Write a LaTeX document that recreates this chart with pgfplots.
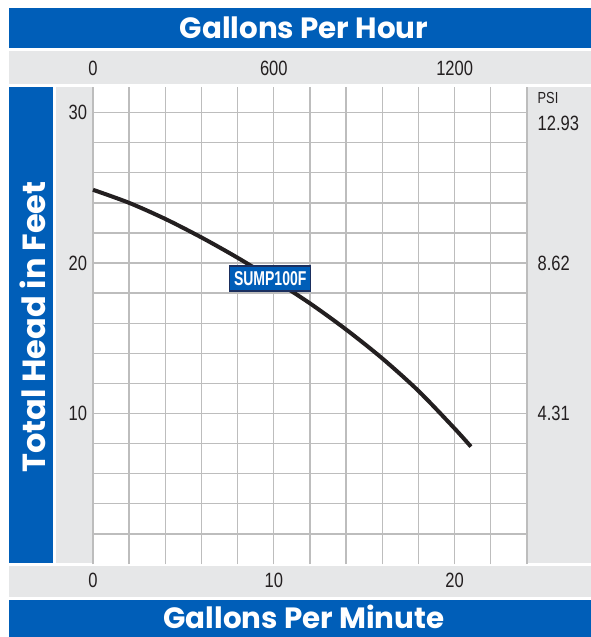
\documentclass[border=0pt]{standalone}
\usepackage{fontspec}
\setmainfont{Liberation Sans}
\newfontfamily\cond[FakeStretch=0.8]{Liberation Sans}
\newfontfamily\condx[FakeStretch=0.7]{Liberation Sans}
\newfontfamily\titlefont{Poppins}
\usepackage{pgfplots}
\pgfplotsset{compat=1.18}
\definecolor{hdrblue}{HTML}{005EB8}
\definecolor{stripgray}{HTML}{E6E7E8}
\definecolor{gridgray}{HTML}{BDBDBD}
\definecolor{curvecol}{HTML}{231F20}
\definecolor{boxedge}{HTML}{1B2F5E}
\begin{document}
\begin{tikzpicture}[x=0.75pt,y=-0.75pt]
\fill[white] (0,0) rectangle (591,637);
\fill[hdrblue] (9,8) rectangle (591,48);
\fill[stripgray] (9,51) rectangle (591,84);
\fill[hdrblue] (9,87) rectangle (53,563);
\fill[stripgray] (56,87) rectangle (92,563);
\fill[stripgray] (527,87) rectangle (591,563);
\fill[stripgray] (9,566) rectangle (591,597);
\fill[hdrblue] (9,600) rectangle (591,637);
\node[text=white, inner sep=0pt, font=\titlefont\bfseries\fontsize{22}{22}\selectfont] at (304,28) {Gallons Per Hour};
\node[text=white, inner sep=0pt, font=\titlefont\bfseries\fontsize{22}{22}\selectfont] at (304,617) {Gallons Per Minute};
\node[text=white, inner sep=0pt, rotate=90, font=\titlefont\bfseries\fontsize{24}{24}\selectfont] at (33,327) {Total Head in Feet};
\begin{axis}[
  at={(69.75pt,-423pt)}, anchor=south west,
  width=325.5pt, height=357.75pt, scale only axis,
  xmin=0, xmax=24, ymin=0, ymax=31.7,
  axis line style={draw=none},
  xtick={0,10,20}, minor xtick={2,4,6,8,12,14,16,18,22,24},
  ytick={10,20,30}, minor ytick={2,4,6,8,12,14,16,18,22,24,26,28},
  major tick length=0pt, minor tick length=0pt,
  grid=both,
  major grid style={gridgray, line width=1pt},
  minor grid style={gridgray, line width=1pt},
  tick label style={font=\cond\fontsize{15.5}{15.5}\selectfont, text=curvecol},
  /pgf/number format/assume math mode=true,
  xticklabel style={yshift=-3pt},
  yticklabel style={xshift=-1pt},
  clip=false,
]
\addplot[curvecol, line width=3pt, smooth, tension=0.5] coordinates {
  (0,24.87) (2,24.0) (4,22.93) (6,21.7) (8,20.35) (10,18.88)
  (12,17.32) (14,15.58) (16,13.66) (18,11.5) (20,9.0) (20.9,7.8)
};
\node[fill=hdrblue, draw=boxedge, line width=1pt, text=white,
  font=\condx\bfseries\fontsize{15}{15}\selectfont, inner sep=1pt,
  minimum width=60.75pt, minimum height=18.75pt] at (axis cs:9.8,18.97) {SUMP100F};
\node[font=\cond\fontsize{15.5}{15.5}\selectfont, text=curvecol, yshift=14.25pt] at (axis cs:0,31.7) {0};
\node[font=\cond\fontsize{15.5}{15.5}\selectfont, text=curvecol, yshift=14.25pt] at (axis cs:10,31.7) {600};
\node[font=\cond\fontsize{15.5}{15.5}\selectfont, text=curvecol, yshift=14.25pt] at (axis cs:20,31.7) {1200};
\node[font=\cond\fontsize{12}{12}\selectfont, text=curvecol, anchor=west, xshift=4.5pt, yshift=11.25pt] at (axis cs:24,30) {PSI};
\node[font=\cond\fontsize{15.5}{15.5}\selectfont, text=curvecol, anchor=west, xshift=4.5pt, yshift=-8.25pt] at (axis cs:24,30) {12.93};
\node[font=\cond\fontsize{15.5}{15.5}\selectfont, text=curvecol, anchor=west, xshift=4.5pt] at (axis cs:24,20) {8.62};
\node[font=\cond\fontsize{15.5}{15.5}\selectfont, text=curvecol, anchor=west, xshift=4.5pt] at (axis cs:24,10) {4.31};
\end{axis}
\pgfresetboundingbox
\useasboundingbox (0,0) rectangle (591,637);
\end{tikzpicture}
\end{document}
